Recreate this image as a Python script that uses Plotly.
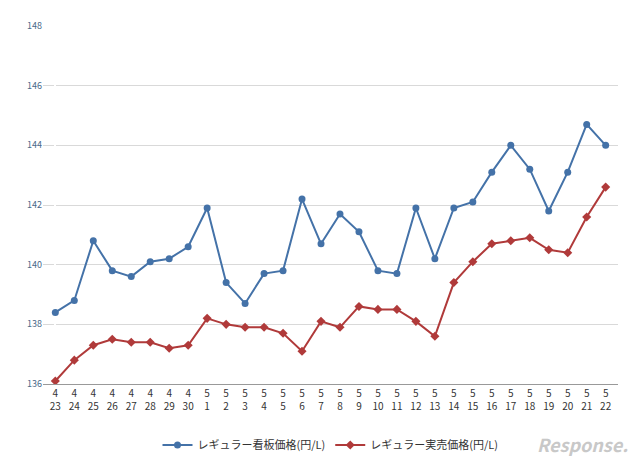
import plotly.graph_objects as go

months = ["4"]*8 + ["5"]*22
days = [23,24,25,26,27,28,29,30] + list(range(1,23))
labels = [f"{m}<br>{d}" for m, d in zip(months, days)]
kanban = [138.4,138.8,140.8,139.8,139.6,140.1,140.2,140.6,141.9,139.4,138.7,139.7,139.8,142.2,140.7,141.7,141.1,139.8,139.7,141.9,140.2,141.9,142.1,143.1,144.0,143.2,141.8,143.1,144.7,144.0]
jitsubai = [136.1,136.8,137.3,137.5,137.4,137.4,137.2,137.3,138.2,138.0,137.9,137.9,137.7,137.1,138.1,137.9,138.6,138.5,138.5,138.1,137.6,139.4,140.1,140.7,140.8,140.9,140.5,140.4,141.6,142.6]
x = list(range(len(labels)))

fig = go.Figure()
fig.add_trace(go.Scatter(x=x, y=kanban, mode="lines+markers", name="レギュラー看板価格(円/L)",
                         line=dict(color="#4472A8", width=2), marker=dict(symbol="circle", size=7, color="#4472A8")))
fig.add_trace(go.Scatter(x=x, y=jitsubai, mode="lines+markers", name="レギュラー実売価格(円/L)",
                         line=dict(color="#B03A3A", width=2), marker=dict(symbol="diamond", size=7, color="#B03A3A")))
fig.update_layout(
    width=640, height=463, plot_bgcolor="white", paper_bgcolor="white",
    margin=dict(l=35, r=30, t=11, b=76),
    font=dict(family="Noto Sans CJK JP", size=10, color="#333"),
    showlegend=True,
    legend=dict(orientation="h", x=0.5, xanchor="center", y=-0.13, yanchor="top", font=dict(size=11)),
    xaxis=dict(tickmode="array", tickvals=x, ticktext=labels, range=[-0.65, 29.65],
               showgrid=False, showline=True, linecolor="#999", ticks="", tickfont=dict(size=10)),
    yaxis=dict(range=[136, 148], dtick=2, showgrid=True, gridcolor="#D9D9D9", zeroline=False,
               tickfont=dict(size=9, color="#4A6A8A"), showline=False),
)
fig.add_annotation(text="<i><b>Response.</b></i>", x=1.02, xanchor="right", y=-0.125, yanchor="top",
                   xref="paper", yref="paper", showarrow=False, font=dict(size=18, color="#C8C8C8"))
fig.write_html("out.html")
